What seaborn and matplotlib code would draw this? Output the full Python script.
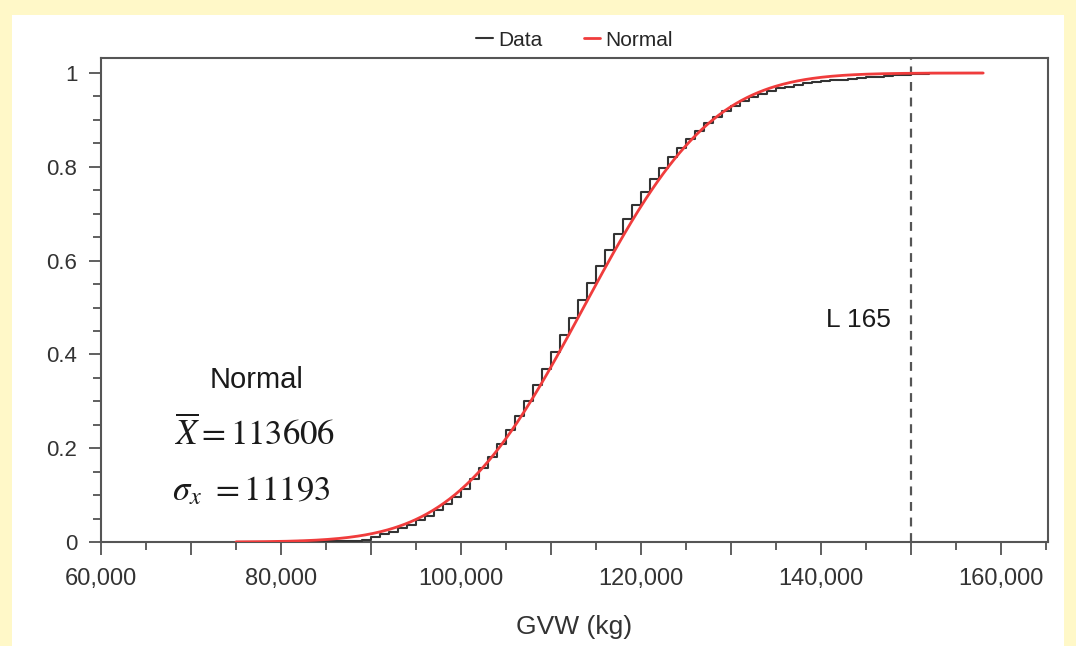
import math
import numpy as np
import pandas as pd
import seaborn as sns
import matplotlib.pyplot as plt
from matplotlib.patches import Rectangle
from matplotlib.ticker import MultipleLocator, FuncFormatter

data_x = [75000, 82000, 86000, 89000, 90000, 91000, 92000, 93000, 94000, 95000,
          96000, 97000, 98000, 99000, 100000, 101000, 102000, 103000, 104000, 105000,
          106000, 107000, 108000, 109000, 110000, 111000, 112000, 113000, 114000, 115000,
          116000, 117000, 118000, 119000, 120000, 121000, 122000, 123000, 124000, 125000,
          126000, 127000, 128000, 129000, 130000, 131000, 132000, 133000, 134000, 135000,
          136000, 137000, 138000, 139000, 140000, 141000, 142000, 143000, 144000, 145000,
          146000, 147000, 148000, 149000, 150000, 152000, 155000, 158000]
data_f = [0.001, 0.002, 0.003, 0.005, 0.010, 0.016, 0.022, 0.029, 0.037, 0.046,
          0.056, 0.068, 0.082, 0.097, 0.114, 0.134, 0.157, 0.182, 0.209, 0.238,
          0.268, 0.300, 0.334, 0.369, 0.405, 0.441, 0.478, 0.515, 0.552, 0.588,
          0.623, 0.657, 0.689, 0.719, 0.747, 0.773, 0.797, 0.820, 0.841, 0.860,
          0.877, 0.893, 0.907, 0.919, 0.930, 0.940, 0.949, 0.956, 0.962, 0.967,
          0.971, 0.975, 0.978, 0.981, 0.983, 0.985, 0.986, 0.988, 0.990, 0.991,
          0.992, 0.994, 0.995, 0.996, 0.998, 0.999, 0.9995, 1.0]

# fitted normal (parameters printed on the chart)
norm_mean = 113606
norm_sd = 11193
norm_range = (75000, 158000)
limit_x = 150000
limit_label = 'L 165'

sns.set_style('white')
plt.rcParams['font.family'] = ['Liberation Sans', 'DejaVu Sans']
plt.rcParams['mathtext.fontset'] = 'stix'

fig = plt.figure(figsize=(10.76, 6.46), dpi=100, facecolor='#fff8c8')
fig.patches.append(Rectangle((12 / 1076, 0), 1052 / 1076, 631 / 646,
                             transform=fig.transFigure, facecolor='white',
                             edgecolor='none', zorder=-10))
ax = fig.add_axes([101 / 1076, 104 / 646, 947 / 1076, 484 / 646])
ax.set_facecolor('white')

nx = np.linspace(norm_range[0], norm_range[1], 400)
nf = [0.5 * (1 + math.erf((v - norm_mean) / (norm_sd * math.sqrt(2)))) for v in nx]
normal_df = pd.DataFrame({'x': nx, 'f': nf})
data_df = pd.DataFrame({'x': data_x, 'f': data_f})

sns.lineplot(data=data_df, x='x', y='f', drawstyle='steps-post', color='#333333',
             lw=1.5, label='Data', ax=ax, zorder=3)
sns.lineplot(data=normal_df, x='x', y='f', color='#f03c3c', lw=2.0,
             label='Normal', ax=ax, zorder=4)

ax.axvline(limit_x, color='#555555', lw=1.6, dashes=(4, 3), zorder=2)
ax.text(147700, 0.473, limit_label, fontsize=19, ha='right', va='center',
        color='#1a1a1a')

ax.text(77300, 0.345, 'Normal', fontsize=21, ha='center', va='center', color='#1a1a1a')
ax.text(77100, 0.23, r'$\overline{X}=113606$', fontsize=25, ha='center', va='center',
        color='#1a1a1a')
ax.text(76700, 0.11, r'$\sigma_x\ =11193$', fontsize=25, ha='center', va='center',
        color='#1a1a1a')

ax.set_xlim(60000, 165200)
ax.set_ylim(0, 1.032)
ax.xaxis.set_major_locator(MultipleLocator(10000))
ax.xaxis.set_minor_locator(MultipleLocator(5000))
ax.xaxis.set_major_formatter(FuncFormatter(
    lambda v, p: f'{int(round(v)):,}' if round(v) % 20000 == 0 else ''))
ax.yaxis.set_major_locator(MultipleLocator(0.2))
ax.yaxis.set_minor_locator(MultipleLocator(0.05))
ax.yaxis.set_major_formatter(FuncFormatter(lambda v, p: f'{v:g}'))

ax.tick_params(axis='both', which='major', direction='out', length=9, width=1.2,
               color='#444444', labelcolor='#333333', left=True, bottom=True)
ax.tick_params(axis='x', which='major', labelsize=17, pad=10)
ax.tick_params(axis='y', which='major', labelsize=16, pad=8)
ax.tick_params(axis='both', which='minor', direction='out', length=6, width=1.2,
               color='#444444', left=True, bottom=True)
for s in ax.spines.values():
    s.set_color('#555555')
    s.set_linewidth(1.5)

ax.set_xlabel('GVW (kg)', fontsize=19, color='#333333', labelpad=18)
ax.set_ylabel('')

ax.legend(loc='lower center', bbox_to_anchor=(0.5, 1.0), ncol=2, frameon=False,
          fontsize=15, handlelength=0.8, handletextpad=0.25, columnspacing=2.0,
          borderaxespad=0.0)

fig.savefig('out.png', dpi=100, facecolor=fig.get_facecolor())
